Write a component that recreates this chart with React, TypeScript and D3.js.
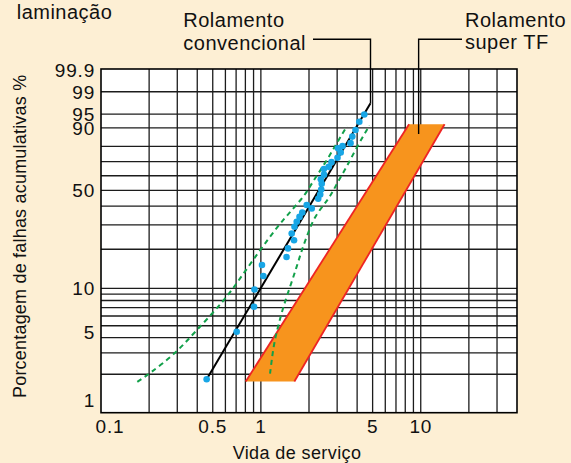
import React from 'react';
import * as d3 from 'd3';

const W = 571;
const H = 463;

// Axis ticks
const xTickValues = [0.1, 0.5, 1, 5, 10];
const xTickLabels = ['0.1', '0.5', '1', '5', '10'];
const xGridValues = [0.2, 0.3, 0.4, 0.5, 0.6, 0.7, 0.8, 0.9, 1, 2, 3, 4, 5, 6, 7, 8, 9, 10, 20, 30];
const yTickValues = [99.9, 99, 95, 90, 50, 10, 5, 1];
const yTickLabels = ['99.9', '99', '95', '90', '50', '10', '5', '1'];
const yGridValues = [99, 95, 90, 80, 70, 60, 50, 40, 30, 20, 10, 9, 8, 7, 6, 5, 4, 3, 2];

// Conventional bearing test results (life, cumulative failure %)
const failLife = [0.458, 0.706, 0.906, 0.912, 1.036, 1.016, 1.447, 1.478, 1.612, 1.559, 1.623, 1.676, 1.745, 1.816, 2.08, 1.935, 2.284, 2.35, 2.385, 2.402, 2.371, 2.482, 2.476, 2.657, 2.766, 3.015, 3.157, 3.037, 3.241, 3.637, 3.732, 3.908, 4.128, 4.436];
const failPct = [1.82, 4.47, 7.13, 9.79, 12.5, 15.2, 17.5, 20.3, 23.3, 26.1, 29.1, 31.5, 34.0, 36.4, 38.7, 40.7, 44.5, 47.2, 50.5, 54.4, 57.6, 60.8, 64.7, 66.3, 69.6, 72.6, 76.1, 78.8, 80.2, 82.0, 85.7, 89.0, 92.5, 94.9];

// Fitted Weibull line (conventional)
const fitLife = [0.458, 4.85];
const fitPct = [1.82, 97.5];

// Confidence bounds
const lowerLife = [0.1687, 0.1976, 0.2903, 0.3873, 0.588, 0.7586, 0.9876, 1.267, 1.559, 1.888, 2.08, 2.518, 2.981, 3.458];
const lowerPct = [1.73, 1.99, 2.93, 4.46, 7.9, 12.46, 19.7, 29.1, 37.7, 46.8, 54.7, 68.7, 81.9, 90.8];
const upperLife = [1.141, 1.169, 1.208, 1.285, 1.381, 1.521, 1.676, 1.801, 1.971, 2.181, 2.679, 2.951, 3.443, 4.035, 4.78];
const upperPct = [2.02, 2.61, 3.58, 5.05, 7.11, 10.26, 14.71, 19.7, 26.2, 34.9, 44.7, 53.5, 66.3, 80.7, 90.96];

// Super TF band
const tfLeftLife = [0.804, 8.45];
const tfRightLife = [1.62, 14.1];
const tfPct = [1.74, 91.5];
const tfLeaderLife = 9.7;
const tfLeaderPct = 87.0;

const BG = '#FDEFD4';
const FONT = '"Liberation Sans", Arial, Helvetica, sans-serif';

const weib = (p: number) => Math.log(-Math.log(1 - p / 100));

export default function App() {
  const x = d3.scaleLog().domain([0.1, 40]).range([101, 517]);
  const y = d3.scaleLinear().domain([weib(0.96), weib(99.92)]).range([412.7, 69]);
  const py = (p: number) => y(weib(p));

  const [x0, x1] = x.range();
  const [yb, yt] = y.range();

  const curve = d3
    .line<[number, number]>()
    .x((d) => x(d[0]))
    .y((d) => py(d[1]))
    .curve(d3.curveBasis);
  const straight = d3
    .line<[number, number]>()
    .x((d) => x(d[0]))
    .y((d) => py(d[1]));

  const lowerPts = lowerLife.map((v, i) => [v, lowerPct[i]] as [number, number]);
  const upperPts = upperLife.map((v, i) => [v, upperPct[i]] as [number, number]);
  const fitPts = fitLife.map((v, i) => [v, fitPct[i]] as [number, number]);

  const band: [number, number][] = [
    [tfLeftLife[0], tfPct[0]],
    [tfRightLife[0], tfPct[0]],
    [tfRightLife[1], tfPct[1]],
    [tfLeftLife[1], tfPct[1]],
  ];
  const bandPath = straight(band) + 'Z';

  const convEnd = [x(fitLife[1]), py(fitPct[1])];
  const tfEnd = [x(tfLeaderLife), py(tfLeaderPct)];

  const xNudge: Record<string, number> = { '0.1': 9 };
  const yNudge: Record<string, number> = { '5': 6, '1': -10 };

  return (
    <svg
      width={W}
      height={H}
      style={{ position: 'fixed', left: 0, top: 0, background: BG, fontFamily: FONT }}
    >
      <rect x={0} y={0} width={W} height={H} fill={BG} />
      <rect x={x0} y={yt} width={x1 - x0} height={yb - yt} fill="#fff" />

      {/* grid */}
      <g stroke="#1c1c1c" strokeWidth={1.3}>
        {xGridValues.map((v) => (
          <line key={'gx' + v} x1={x(v)} x2={x(v)} y1={yt} y2={yb} />
        ))}
        {yGridValues.map((v) => (
          <line key={'gy' + v} x1={x0} x2={x1} y1={py(v)} y2={py(v)} />
        ))}
      </g>

      {/* super TF band */}
      <path d={bandPath} fill="#F7941D" stroke="none" />
      <path d={straight([[tfLeftLife[0], tfPct[0]], [tfLeftLife[1], tfPct[1]]]) || ''} stroke="#EE2424" strokeWidth={1.8} fill="none" />
      <path d={straight([[tfRightLife[0], tfPct[0]], [tfRightLife[1], tfPct[1]]]) || ''} stroke="#EE2424" strokeWidth={1.8} fill="none" />

      {/* confidence bounds */}
      <path d={curve(lowerPts) || ''} fill="none" stroke="#12A04A" strokeWidth={2} strokeDasharray="5,4" />
      <path d={curve(upperPts) || ''} fill="none" stroke="#12A04A" strokeWidth={2} strokeDasharray="5,4" />

      {/* fitted line */}
      <path d={straight(fitPts) || ''} fill="none" stroke="#000" strokeWidth={2} />

      {/* points */}
      <g fill="#18A6E6">
        {failLife.map((v, i) => (
          <circle key={'p' + i} cx={x(v)} cy={py(failPct[i])} r={3.3} />
        ))}
      </g>

      {/* border */}
      <rect x={x0} y={yt} width={x1 - x0} height={yb - yt} fill="none" stroke="#000" strokeWidth={1.6} />

      {/* leaders */}
      <polyline
        points={`313,39.3 ${convEnd[0]},39.3 ${convEnd[0]},${convEnd[1]}`}
        fill="none"
        stroke="#000"
        strokeWidth={1.4}
      />
      <polyline
        points={`462,39.3 ${tfEnd[0]},39.3 ${tfEnd[0]},${tfEnd[1]}`}
        fill="none"
        stroke="#000"
        strokeWidth={1.4}
      />

      {/* y tick labels */}
      <g fontSize={19} letterSpacing={0.8} fill="#111" textAnchor="end">
        {yTickValues.map((v, i) => (
          <text key={'yl' + v} x={95} y={py(v) + (yNudge[yTickLabels[i]] || 0)} dy="0.36em">
            {yTickLabels[i]}
          </text>
        ))}
      </g>

      {/* x tick labels */}
      <g fontSize={19} letterSpacing={0.8} fill="#111" textAnchor="middle">
        {xTickValues.map((v, i) => (
          <text key={'xl' + v} x={x(v) + (xNudge[xTickLabels[i]] || 0)} y={433}>
            {xTickLabels[i]}
          </text>
        ))}
      </g>

      {/* titles */}
      <text x={297} y={459} fontSize={18} letterSpacing={0.4} textAnchor="middle" fill="#111">
        Vida de serviço
      </text>
      <text
        transform="translate(26,398) rotate(-90)"
        fontSize={18}
        letterSpacing={0.2}
        fill="#111"
      >
        Porcentagem de falhas acumulativas %
      </text>
      <text x={16.7} y={18.5} fontSize={20} letterSpacing={0.5} fill="#111">
        laminação
      </text>
      <g fontSize={20} letterSpacing={0.5} fill="#111">
        <text x={183.3} y={27.3}>Rolamento</text>
        <text x={183.3} y={50}>convencional</text>
        <text x={465} y={27.3}>Rolamento</text>
        <text x={465} y={49}>super TF</text>
      </g>
    </svg>
  );
}
